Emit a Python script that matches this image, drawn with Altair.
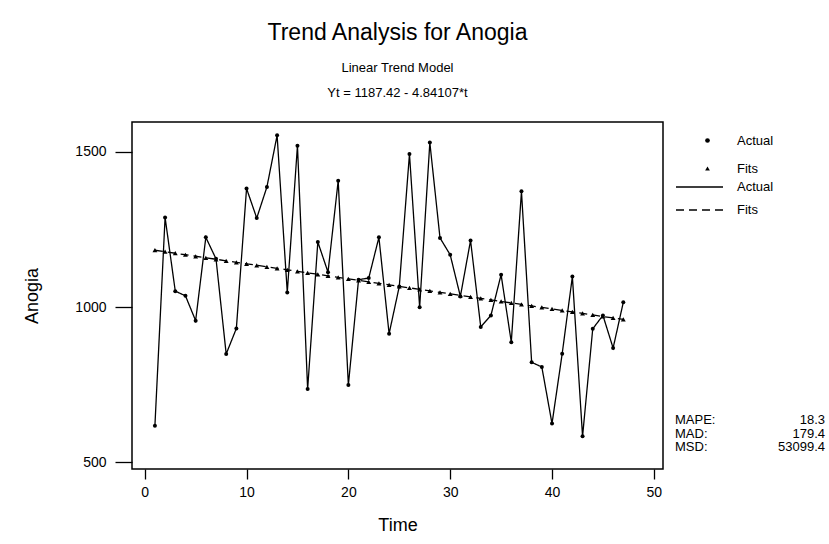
import altair as alt
import pandas as pd

# ---- data ----
time_idx = list(range(1, 48))
actual = [618, 1288, 1051, 1036, 956, 1224, 1155, 849, 931, 1381,
          1286, 1386, 1552, 1047, 1519, 736, 1209, 1112, 1406, 749,
          1088, 1093, 1224, 914, 1066, 1492, 999, 1529, 1222, 1168,
          1034, 1214, 936, 973, 1104, 887, 1372, 822, 807, 625,
          850, 1098, 584, 930, 973, 868, 1015]
fits = [1182.58, 1177.74, 1172.90, 1168.06, 1163.21, 1158.37, 1153.53, 1148.69,
        1143.85, 1139.01, 1134.17, 1129.33, 1124.49, 1119.65, 1114.80, 1109.96,
        1105.12, 1100.28, 1095.44, 1090.60, 1085.76, 1080.92, 1076.08, 1071.23,
        1066.39, 1061.55, 1056.71, 1051.87, 1047.03, 1042.19, 1037.35, 1032.51,
        1027.67, 1022.82, 1017.98, 1013.14, 1008.30, 1003.46, 998.62, 993.78,
        988.94, 984.10, 979.26, 974.41, 969.57, 964.73, 959.89]
series_names = ["Actual", "Fits"]
line_names = ["Actual line", "Fits line"]
x_ticks = [0, 10, 20, 30, 40, 50]
y_ticks = [500, 1000, 1500]
stat_names = ["MAPE:", "MAD:", "MSD:"]
stat_values = ["18.3", "179.4", "53099.4"]
title_text = "Trend Analysis for Anogia"
subtitle_lines = ["Linear Trend Model", "Yt = 1187.42 - 4.84107*t"]

rows = []
for s, ln, vals in zip(series_names, line_names, [actual, fits]):
    for t, v in zip(time_idx, vals):
        rows.append({"t": t, "value": v, "pt": s, "ln": ln})
df = pd.DataFrame(rows)

FONT = "Liberation Sans"
W, H = 531, 347

x_enc = alt.X("t:Q",
              scale=alt.Scale(domain=[-1.25, 50.9], nice=False, zero=False),
              axis=alt.Axis(values=x_ticks, title="Time", tickSize=10,
                            labelPadding=6, titleY=56, titleBaseline="middle",
                            format="d"))
y_enc = alt.Y("value:Q",
              scale=alt.Scale(domain=[479, 1595], nice=False, zero=False),
              axis=alt.Axis(values=y_ticks, title="Anogia", tickSize=17,
                            labelPadding=9, titleX=-100, titleY=H / 2,
                            titleBaseline="middle", format="d"))

shape_enc = alt.Shape(
    "pt:N",
    scale=alt.Scale(domain=series_names, range=["circle", "triangle-up"]),
    legend=alt.Legend(title=None, orient="none", legendX=569, legendY=12,
                      symbolSize=22, symbolFillColor="black",
                      symbolStrokeColor="black", labelOffset=23, rowPadding=14,
                      labelFontSize=13, labelFont=FONT, labelColor="black",
                      padding=0))

lines = alt.Chart(df).mark_line(color="black", strokeWidth=1.3).encode(
    x=x_enc, y=y_enc,
    strokeDash=alt.StrokeDash(
        "ln:N",
        scale=alt.Scale(domain=line_names, range=[[1, 0], [8, 5]]),
        legend=alt.Legend(title=None, orient="none", legendX=543, legendY=59,
                          symbolType="stroke", symbolSize=2209,
                          symbolStrokeColor="black", symbolStrokeWidth=1.4,
                          clipHeight=12, labelOffset=13, rowPadding=10,
                          labelFontSize=13, labelFont=FONT, labelColor="black",
                          labelExpr="replace(datum.label, ' line', '')",
                          padding=0)))

pts_actual = alt.Chart(df[df["pt"] == "Actual"]).mark_point(
    filled=True, color="black", size=16, opacity=1).encode(
    x=x_enc, y=y_enc, shape=shape_enc)
pts_fits = alt.Chart(df[df["pt"] == "Fits"]).mark_point(
    filled=True, color="black", size=24, opacity=1).encode(
    x=x_enc, y=y_enc, shape=shape_enc)

stat_layers = []
one = pd.DataFrame({"a": [0]})
for i, (nm, val) in enumerate(zip(stat_names, stat_values)):
    ypix = 298 + i * 13.5
    stat_layers.append(alt.Chart(one).mark_text(
        align="left", baseline="middle", font=FONT, fontSize=13, color="black").encode(
        x=alt.value(543), y=alt.value(ypix), text=alt.value(nm)))
    stat_layers.append(alt.Chart(one).mark_text(
        align="right", baseline="middle", font=FONT, fontSize=13, color="black").encode(
        x=alt.value(693), y=alt.value(ypix), text=alt.value(val)))

chart = alt.layer(lines, pts_actual, pts_fits, *stat_layers).properties(
    width=W, height=H,
    padding={"left": 132, "top": 122, "right": 166, "bottom": 75},
    autosize=alt.AutoSizeParams(type="none"),
    title=alt.TitleParams(
        text=title_text, subtitle=subtitle_lines, font=FONT, fontSize=23,
        fontWeight="normal", color="black", subtitleFont=FONT,
        subtitleFontSize=13, subtitleColor="black", subtitleLineHeight=25,
        subtitlePadding=17, anchor="middle", frame="group", offset=22),
).configure_view(stroke="black", strokeWidth=1.5).configure_axis(
    domain=False, grid=False, tickColor="black", tickWidth=1.3,
    labelFont=FONT, labelFontSize=14, labelColor="black",
    titleFont=FONT, titleFontSize=18, titleFontWeight="normal",
    titleColor="black")

chart.save("out.html", embed_options={"renderer": "svg", "actions": False})
